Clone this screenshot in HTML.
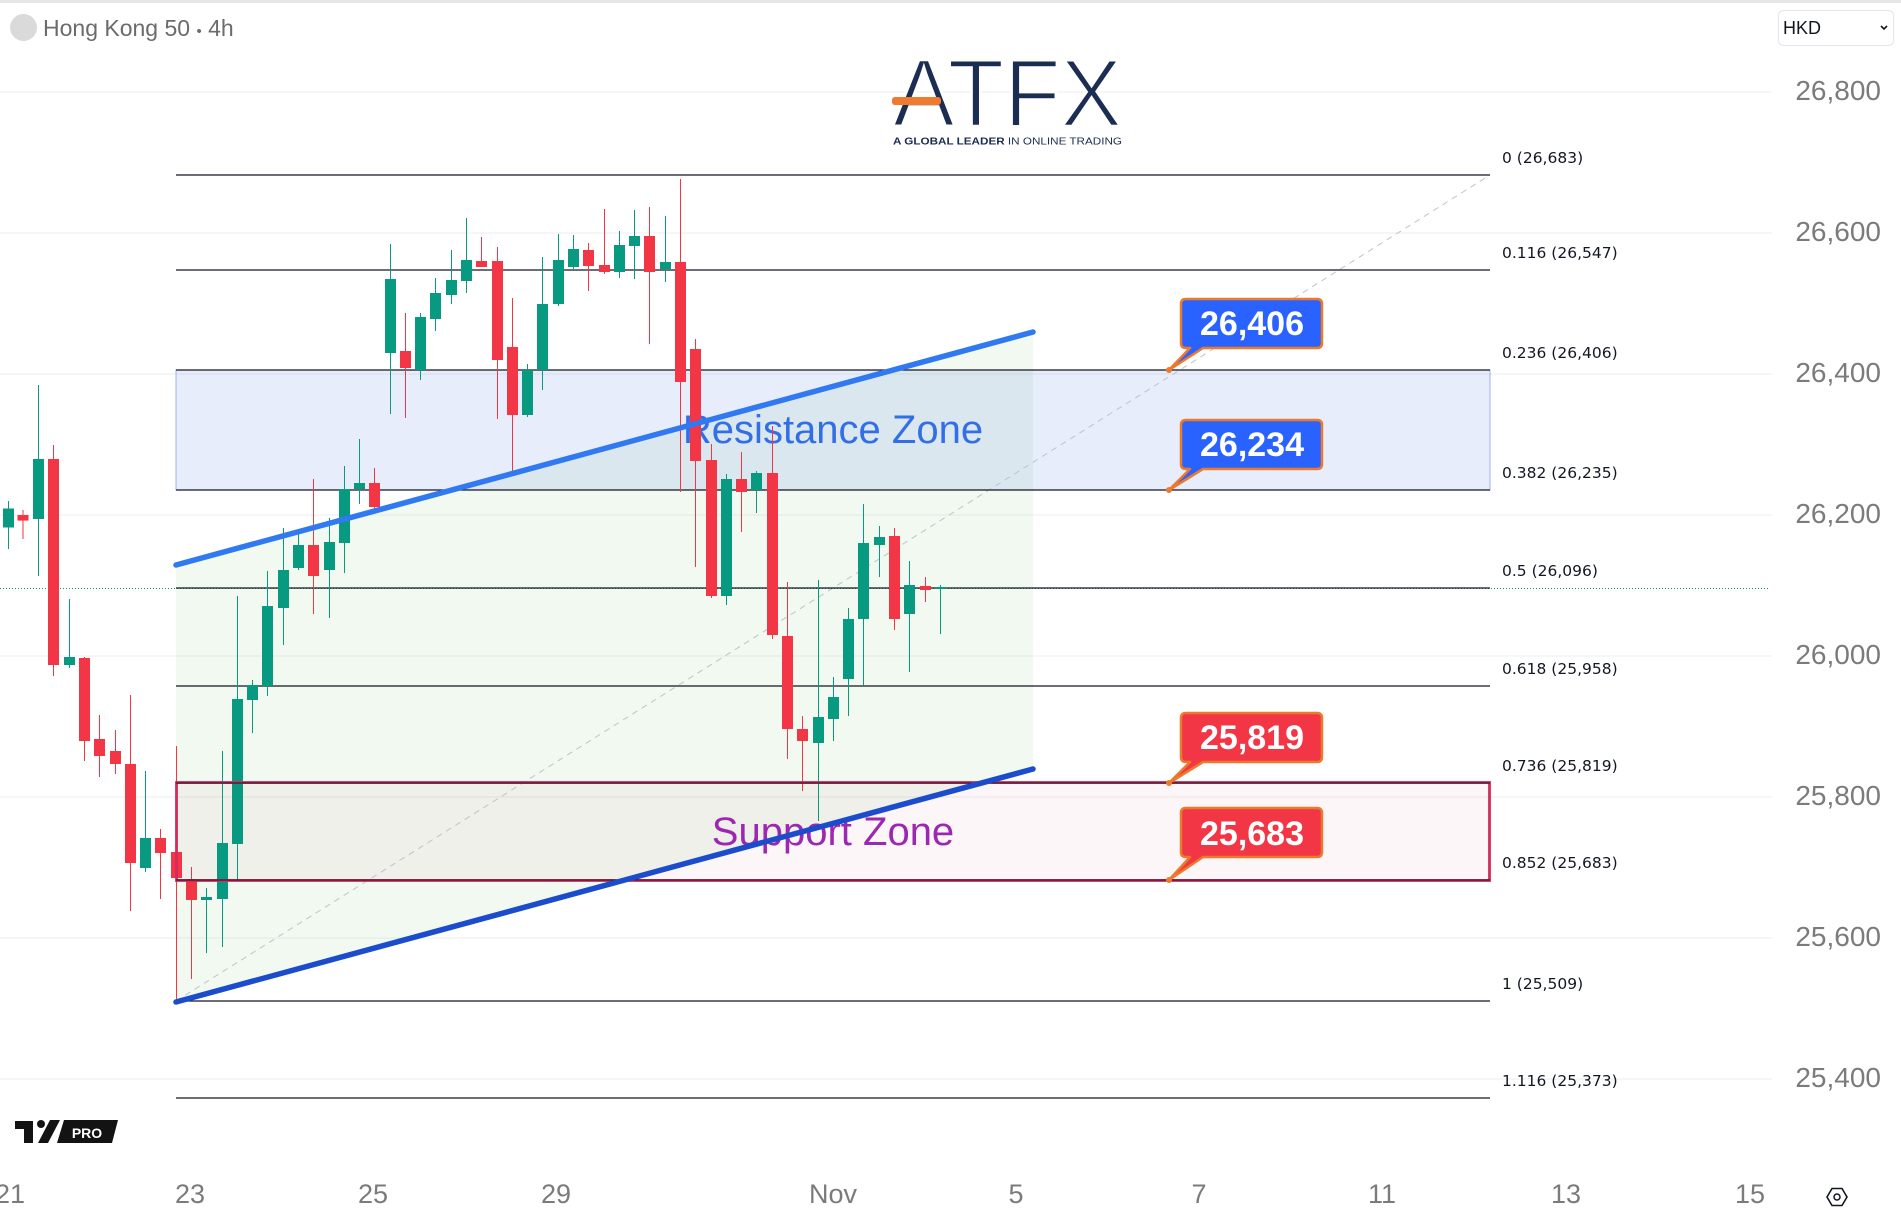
<!DOCTYPE html>
<html>
<head>
<meta charset="utf-8">
<style>
html,body{margin:0;padding:0;background:#fff;}
body{width:1901px;height:1230px;overflow:hidden;}
svg{display:block;font-family:"Liberation Sans",Arial,sans-serif;}
</style>
</head>
<body>
<svg width="1901" height="1230" viewBox="0 0 1901 1230" xmlns="http://www.w3.org/2000/svg">
<rect x="0" y="0" width="1901" height="1230" fill="#ffffff"/>
<rect x="0" y="0" width="1901" height="3" fill="#e6e6e6"/>

<!-- horizontal grid -->
<g stroke="#f0f1f3" stroke-width="1.2">
<line x1="0" y1="92" x2="1772" y2="92"/>
<line x1="0" y1="233" x2="1772" y2="233"/>
<line x1="0" y1="374" x2="1772" y2="374"/>
<line x1="0" y1="515" x2="1772" y2="515"/>
<line x1="0" y1="656" x2="1772" y2="656"/>
<line x1="0" y1="797" x2="1772" y2="797"/>
<line x1="0" y1="938" x2="1772" y2="938"/>
<line x1="0" y1="1079" x2="1772" y2="1079"/>
</g>

<!-- channel fill -->
<polygon points="176,565 1033,332 1033,769 176,1002" fill="#4caf50" fill-opacity="0.08"/>
<!-- resistance zone -->
<rect x="176" y="370" width="1314" height="120" fill="#2a5fe0" fill-opacity="0.11" stroke="#9ab4ea" stroke-width="1"/>
<!-- support zone fill -->
<rect x="176" y="783" width="1314" height="97" fill="#c8285a" fill-opacity="0.045"/>

<!-- zone texts -->
<text x="833" y="443" font-size="40" fill="#326ee6" text-anchor="middle">Resistance Zone</text>
<text x="833" y="845" font-size="40" fill="#9c27b0" text-anchor="middle">Support Zone</text>

<!-- dashed diagonal -->
<line x1="176" y1="1001" x2="1490" y2="175" stroke="#bfc3c9" stroke-width="1" stroke-dasharray="6 5"/>

<!-- current price dotted -->
<line x1="0" y1="588.5" x2="1770" y2="588.5" stroke="#089981" stroke-width="1" stroke-dasharray="1 2"/>

<!-- fib lines -->
<g stroke="#131722" stroke-width="1.3">
<line x1="176" y1="175" x2="1490" y2="175"/>
<line x1="176" y1="270" x2="1490" y2="270"/>
<line x1="176" y1="370" x2="1490" y2="370"/>
<line x1="176" y1="490" x2="1490" y2="490"/>
<line x1="176" y1="588" x2="1490" y2="588"/>
<line x1="176" y1="686" x2="1490" y2="686"/>
<line x1="176" y1="783" x2="1490" y2="783"/>
<line x1="176" y1="880" x2="1490" y2="880"/>
<line x1="176" y1="1001" x2="1490" y2="1001"/>
<line x1="176" y1="1098" x2="1490" y2="1098"/>
</g>

<!-- candles green -->
<g fill="#089981">
<rect x="8" y="501" width="1" height="48"/><rect x="3" y="508.5" width="11" height="19"/>
<rect x="38" y="385" width="1" height="191"/><rect x="33" y="459" width="11" height="60"/>
<rect x="69" y="599" width="1" height="69"/><rect x="64" y="657" width="11" height="8"/>
<rect x="145" y="771" width="1" height="101"/><rect x="140" y="838" width="11" height="30"/>
<rect x="206" y="888" width="1" height="65"/><rect x="201" y="897" width="11" height="3"/>
<rect x="222" y="751" width="1" height="196"/><rect x="217" y="843" width="11" height="56"/>
<rect x="237" y="596" width="1" height="285"/><rect x="232" y="699" width="11" height="145"/>
<rect x="252" y="680" width="1" height="53"/><rect x="247" y="685" width="11" height="15"/>
<rect x="267" y="571" width="1" height="125"/><rect x="262" y="606" width="11" height="80"/>
<rect x="283" y="528" width="1" height="117"/><rect x="278" y="570" width="11" height="38"/>
<rect x="298" y="529" width="1" height="41"/><rect x="293" y="545" width="11" height="23"/>
<rect x="329" y="518" width="1" height="100"/><rect x="324" y="542" width="11" height="28"/>
<rect x="344" y="466" width="1" height="107"/><rect x="339" y="489" width="11" height="54"/>
<rect x="359" y="439" width="1" height="65"/><rect x="354" y="483" width="11" height="6"/>
<rect x="390" y="244" width="1" height="170"/><rect x="385" y="279" width="11" height="74"/>
<rect x="420" y="313" width="1" height="67"/><rect x="415" y="317" width="11" height="53"/>
<rect x="435" y="278" width="1" height="53"/><rect x="430" y="293" width="11" height="26"/>
<rect x="451" y="250" width="1" height="54"/><rect x="446" y="280" width="11" height="15"/>
<rect x="466" y="218" width="1" height="75"/><rect x="461" y="260" width="11" height="21"/>
<rect x="527" y="364" width="1" height="53"/><rect x="522" y="370" width="11" height="45"/>
<rect x="542" y="257" width="1" height="133"/><rect x="537" y="304" width="11" height="66"/>
<rect x="558" y="234" width="1" height="72"/><rect x="553" y="260" width="11" height="44"/>
<rect x="573" y="235" width="1" height="35"/><rect x="568" y="249" width="11" height="18"/>
<rect x="619" y="231" width="1" height="47"/><rect x="614" y="245" width="11" height="27"/>
<rect x="634" y="210" width="1" height="69"/><rect x="629" y="236" width="11" height="10"/>
<rect x="665" y="216" width="1" height="66"/><rect x="660" y="262" width="11" height="7"/>
<rect x="726" y="474" width="1" height="131"/><rect x="721" y="479" width="11" height="117"/>
<rect x="756" y="471" width="1" height="42"/><rect x="751" y="473" width="11" height="17"/>
<rect x="818" y="580" width="1" height="241"/><rect x="813" y="717" width="11" height="26"/>
<rect x="833" y="677" width="1" height="64"/><rect x="828" y="697" width="11" height="22"/>
<rect x="848" y="608" width="1" height="108"/><rect x="843" y="619" width="11" height="60"/>
<rect x="863" y="504" width="1" height="181"/><rect x="858" y="543" width="11" height="76"/>
<rect x="879" y="526" width="1" height="51"/><rect x="874" y="537" width="11" height="8"/>
<rect x="909" y="561" width="1" height="111"/><rect x="904" y="585" width="11" height="29"/>
<rect x="940" y="585" width="1" height="49"/><rect x="935" y="587" width="11" height="2"/>
</g>
<!-- candles red -->
<g fill="#f23645">
<rect x="22.5" y="510" width="1" height="29"/><rect x="17.5" y="515" width="11" height="5.6"/>
<rect x="53" y="445" width="1" height="231"/><rect x="48" y="459" width="11" height="206"/>
<rect x="84" y="657" width="1" height="104"/><rect x="79" y="658" width="11" height="83"/>
<rect x="99" y="715" width="1" height="62"/><rect x="94" y="739" width="11" height="17"/>
<rect x="115" y="730" width="1" height="44"/><rect x="110" y="751" width="11" height="13"/>
<rect x="130" y="695" width="1" height="216"/><rect x="125" y="764" width="11" height="99"/>
<rect x="160" y="829" width="1" height="70"/><rect x="155" y="838" width="11" height="15"/>
<rect x="176" y="746" width="1" height="255"/><rect x="171" y="852" width="11" height="26"/>
<rect x="191" y="867" width="1" height="112"/><rect x="186" y="879" width="11" height="21"/>
<rect x="313" y="479" width="1" height="135"/><rect x="308" y="545" width="11" height="31"/>
<rect x="374" y="468" width="1" height="44"/><rect x="369" y="483" width="11" height="24"/>
<rect x="405" y="313" width="1" height="105"/><rect x="400" y="351" width="11" height="17"/>
<rect x="481" y="237" width="1" height="30"/><rect x="476" y="261" width="11" height="6"/>
<rect x="497" y="247" width="1" height="172"/><rect x="492" y="261" width="11" height="99"/>
<rect x="512" y="298" width="1" height="175"/><rect x="507" y="347" width="11" height="68"/>
<rect x="588" y="243" width="1" height="48"/><rect x="583" y="250" width="11" height="16"/>
<rect x="604" y="209" width="1" height="65"/><rect x="599" y="265" width="11" height="7"/>
<rect x="649" y="207" width="1" height="137"/><rect x="644" y="236" width="11" height="36"/>
<rect x="680" y="179" width="1" height="313"/><rect x="675" y="262" width="11" height="120"/>
<rect x="695" y="339" width="1" height="228"/><rect x="690" y="349" width="11" height="112"/>
<rect x="711" y="444" width="1" height="154"/><rect x="706" y="460" width="11" height="136"/>
<rect x="741" y="452" width="1" height="80"/><rect x="736" y="479" width="11" height="13"/>
<rect x="772" y="426" width="1" height="213"/><rect x="767" y="473" width="11" height="162"/>
<rect x="787" y="582" width="1" height="177"/><rect x="782" y="636" width="11" height="93"/>
<rect x="802" y="716" width="1" height="75"/><rect x="797" y="729" width="11" height="12"/>
<rect x="894" y="528" width="1" height="102"/><rect x="889" y="536" width="11" height="83"/>
<rect x="925" y="577" width="1" height="25"/><rect x="920" y="586" width="11" height="4"/>
</g>

<!-- support zone border -->
<rect x="176.5" y="782.5" width="1313" height="98" fill="none" stroke="#d42b5c" stroke-width="2.8"/>
<line x1="176" y1="783" x2="1490" y2="783" stroke="#131722" stroke-width="1"/>
<line x1="176" y1="880" x2="1490" y2="880" stroke="#131722" stroke-width="1"/>

<!-- trend lines -->
<line x1="176" y1="565" x2="1033" y2="332" stroke="#3179f0" stroke-width="5.5" stroke-linecap="round"/>
<line x1="176" y1="1002" x2="1033" y2="769" stroke="#1a4ccc" stroke-width="5.5" stroke-linecap="round"/>

<!-- fib labels -->
<g font-size="15.5" fill="#131722" font-family="'DejaVu Sans','Liberation Sans',sans-serif">
<text x="1502" y="163">0 (26,683)</text>
<text x="1502" y="258">0.116 (26,547)</text>
<text x="1502" y="358">0.236 (26,406)</text>
<text x="1502" y="478">0.382 (26,235)</text>
<text x="1502" y="576">0.5 (26,096)</text>
<text x="1502" y="674">0.618 (25,958)</text>
<text x="1502" y="771">0.736 (25,819)</text>
<text x="1502" y="868">0.852 (25,683)</text>
<text x="1502" y="989">1 (25,509)</text>
<text x="1502" y="1086">1.116 (25,373)</text>
</g>

<!-- callout labels -->
<g stroke="#ec7a2c" stroke-width="2.5" stroke-linejoin="round">
<path d="M1186,299 H1317 Q1322,299 1322,304 V343 Q1322,348 1317,348 H1203 L1169,370 L1190,348 H1186 Q1181,348 1181,343 V304 Q1181,299 1186,299 Z" fill="#2962ff"/>
<path d="M1186,420 H1317 Q1322,420 1322,425 V464 Q1322,469 1317,469 H1203 L1169,490 L1190,469 H1186 Q1181,469 1181,464 V425 Q1181,420 1186,420 Z" fill="#2962ff"/>
<path d="M1186,713 H1317 Q1322,713 1322,718 V757 Q1322,762 1317,762 H1203 L1169,783 L1190,762 H1186 Q1181,762 1181,757 V718 Q1181,713 1186,713 Z" fill="#f23645"/>
<path d="M1186,808 H1317 Q1322,808 1322,813 V852 Q1322,857 1317,857 H1203 L1169,880 L1190,857 H1186 Q1181,857 1181,852 V813 Q1181,808 1186,808 Z" fill="#f23645"/>
</g>
<g fill="#ec7a2c">
<circle cx="1169" cy="370" r="3"/>
<circle cx="1169" cy="490" r="3"/>
<circle cx="1169" cy="783" r="3"/>
<circle cx="1169" cy="880" r="3"/>
</g>
<g font-size="34" font-weight="bold" fill="#ffffff" text-anchor="middle">
<text x="1252" y="335">26,406</text>
<text x="1252" y="456">26,234</text>
<text x="1252" y="749">25,819</text>
<text x="1252" y="845">25,683</text>
</g>

<!-- price axis -->
<g font-size="28" fill="#7b7b7b" text-anchor="end">
<text x="1881" y="100">26,800</text>
<text x="1881" y="241">26,600</text>
<text x="1881" y="382">26,400</text>
<text x="1881" y="523">26,200</text>
<text x="1881" y="664">26,000</text>
<text x="1881" y="805">25,800</text>
<text x="1881" y="946">25,600</text>
<text x="1881" y="1087">25,400</text>
</g>

<!-- time axis -->
<g font-size="27" fill="#7b7b7b" text-anchor="middle">
<text x="10" y="1203">21</text>
<text x="190" y="1203">23</text>
<text x="373" y="1203">25</text>
<text x="556" y="1203">29</text>
<text x="833" y="1203">Nov</text>
<text x="1016" y="1203">5</text>
<text x="1199" y="1203">7</text>
<text x="1382" y="1203">11</text>
<text x="1566" y="1203">13</text>
<text x="1750" y="1203">15</text>
</g>
<!-- settings icon -->
<polygon points="1827,1197 1832,1188.5 1842,1188.5 1847,1197 1842,1205.5 1832,1205.5" fill="none" stroke="#131722" stroke-width="1.6"/>
<circle cx="1837" cy="1197" r="3" fill="none" stroke="#131722" stroke-width="1.5"/>

<!-- TV PRO logo -->
<g fill="#131313">
<rect x="15" y="1121" width="18" height="8"/>
<rect x="24" y="1121" width="9" height="22"/>
<circle cx="41" cy="1124" r="4"/>
<polygon points="38,1143 48,1143 60,1120 50,1120"/>
<polygon points="57,1143 112,1143 118,1120 64,1120"/>
</g>
<text x="87" y="1138" font-size="14" font-weight="bold" fill="#ffffff" text-anchor="middle">PRO</text>

<!-- title -->
<circle cx="23.5" cy="27.5" r="13.5" fill="#dadada"/>
<text x="43" y="36" font-size="23" fill="#6b6b6b">Hong Kong 50 <tspan font-size="15">•</tspan> 4h</text>

<!-- HKD selector -->
<rect x="1778.5" y="10.5" width="115" height="35" rx="5" fill="#ffffff" stroke="#e3e5ea" stroke-width="1"/>
<text x="1783" y="34" font-size="18" fill="#131722">HKD</text>
<polyline points="1881,26 1884,29 1887,26" fill="none" stroke="#131722" stroke-width="1.6"/>

<!-- ATFX logo -->
<text x="893" y="126" font-size="96" fill="#1b2d52" stroke="#ffffff" stroke-width="2.5" textLength="229" lengthAdjust="spacingAndGlyphs">ATFX</text>
<rect x="892" y="97" width="49" height="8" rx="3" fill="#f07a2e"/>
<text x="893" y="144.5" font-size="10.5" fill="#1b2d52" textLength="229" lengthAdjust="spacingAndGlyphs"><tspan font-weight="bold">A GLOBAL LEADER</tspan> IN ONLINE TRADING</text>
</svg>
</body>
</html>
